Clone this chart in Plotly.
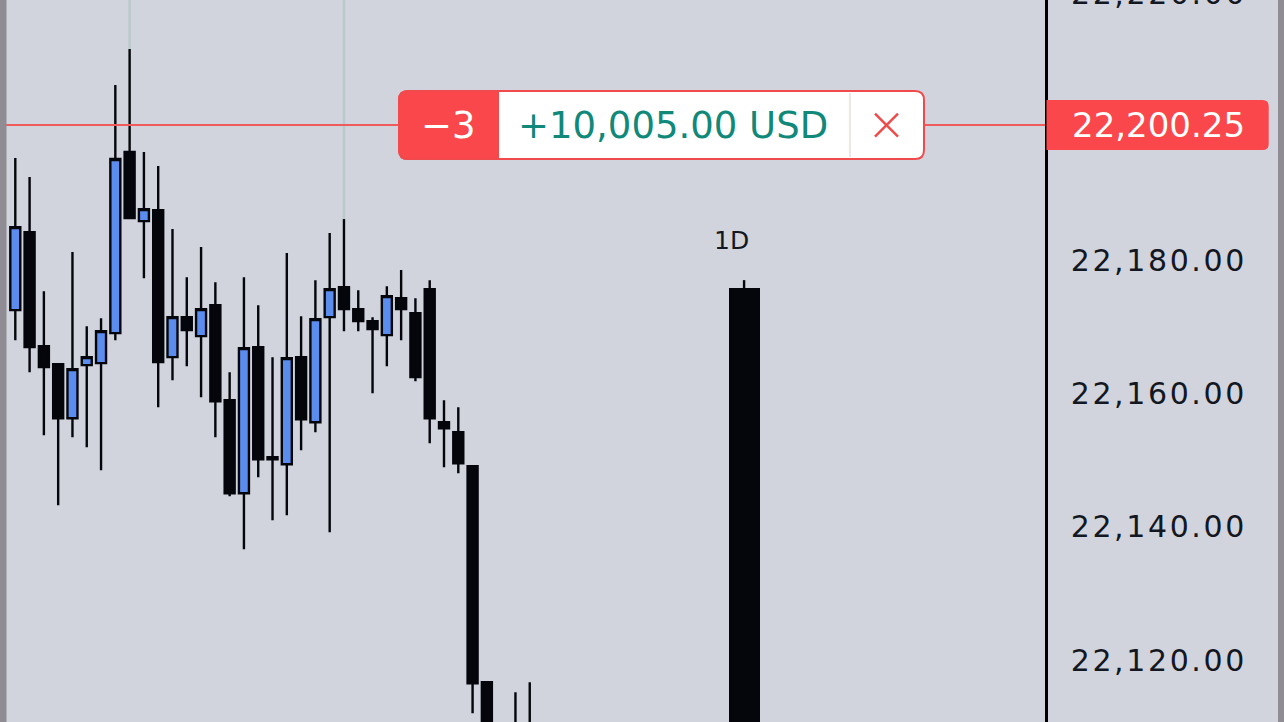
import plotly.graph_objects as go

# ---------------- data ----------------
bar_index = list(range(0, 34)) + [35, 36]
open_ = [22172.50, 22184.20, 22167.10, 22164.40, 22156.30, 22164.25, 22164.55, 22169.05,
         22196.20, 22185.85, 22187.50, 22165.45, 22171.45, 22168.60, 22173.25, 22159.00,
         22145.05, 22166.95, 22150.45, 22149.40, 22165.45, 22155.70, 22171.45, 22175.95,
         22172.65, 22170.85, 22168.75, 22174.30, 22172.05, 22175.65, 22155.70, 22154.20,
         22149.10, 22116.70, 22108.00, 22109.50]
high = [22195.30, 22192.45, 22175.35, 22164.40, 22181.20, 22170.10, 22171.30, 22206.25,
        22211.65, 22196.20, 22194.10, 22184.65, 22177.45, 22181.95, 22176.70, 22163.20,
        22177.45, 22173.25, 22165.45, 22181.05, 22171.60, 22177.00, 22184.05, 22186.15,
        22175.50, 22171.45, 22176.10, 22178.50, 22174.30, 22177.00, 22159.00, 22157.95,
        22149.10, 22116.70, 22115.20, 22116.70]
low = [22168.00, 22163.20, 22153.75, 22143.25, 22153.45, 22151.95, 22148.50, 22168.00,
       22186.30, 22177.30, 22157.95, 22162.00, 22164.10, 22159.45, 22153.45, 22144.60,
       22136.65, 22147.45, 22141.00, 22141.75, 22151.50, 22154.20, 22139.20, 22169.35,
       22169.35, 22160.05, 22164.10, 22168.00, 22161.85, 22152.55, 22148.95, 22148.05,
       22112.05, 22098.00, 22100.00, 22101.00]
close = [22184.95, 22166.95, 22163.95, 22156.30, 22163.65, 22165.45, 22169.35, 22195.15,
         22186.30, 22187.65, 22164.70, 22171.45, 22169.50, 22172.65, 22158.85, 22145.05,
         22166.80, 22150.15, 22150.15, 22165.30, 22156.15, 22171.15, 22175.65, 22172.65,
         22170.85, 22169.65, 22174.60, 22172.65, 22162.45, 22156.30, 22154.80, 22149.55,
         22116.55, 22102.00, 22104.50, 22105.00]

# faint marker lines above two bars
marker_bars = [8, 23]

# daily ("1D") bar
daily_index = [51]
daily_open = [22175.80]
daily_high = [22177.00]
daily_low = [22080.00]
daily_close = [22088.00]
daily_label = "1D"

# position / order
position_price = 22200.25
position_qty = "−3"
position_pnl = "+10,005.00 USD"

tick_values = [22120, 22140, 22160, 22180]
offscreen_tick = 22220

# ---------------- layout geometry ----------------
W, H = 1284, 722
PW, PH = 1045, 722            # plot area in px
Y_MAX = 22219.0
Y_MIN = Y_MAX - 108.25
BAR_PX = 14.29
X0 = -15.3 / BAR_PX
X1 = X0 + PW / BAR_PX

BG = "#d1d4dc"
RED = "#f9474b"
BLUE = "#5b8def"
INK = "#131722"
TEAL = "#10897a"
FONT = "DejaVu Sans"


def xp(px):
    return px / PW


def ypx(price):
    return (Y_MAX - price) / (Y_MAX - Y_MIN) * PH


def yp(py):
    return 1 - py / PH


def rrect(x0, y0, x1, y1, tl, tr, br, bl):
    pts = [
        f"M{xp(x0 + tl)},{yp(y0)}",
        f"L{xp(x1 - tr)},{yp(y0)}",
        f"Q{xp(x1)},{yp(y0)} {xp(x1)},{yp(y0 + tr)}",
        f"L{xp(x1)},{yp(y1 - br)}",
        f"Q{xp(x1)},{yp(y1)} {xp(x1 - br)},{yp(y1)}",
        f"L{xp(x0 + bl)},{yp(y1)}",
        f"Q{xp(x0)},{yp(y1)} {xp(x0)},{yp(y1 - bl)}",
        f"L{xp(x0)},{yp(y0 + tl)}",
        f"Q{xp(x0)},{yp(y0)} {xp(x0 + tl)},{yp(y0)}",
        "Z",
    ]
    return " ".join(pts)


fig = go.Figure()

# faint vertical lines above bars
for b in marker_bars:
    i = bar_index.index(b)
    fig.add_trace(go.Scatter(x=[b, b], y=[high[i], Y_MAX + 5], mode="lines",
                             line=dict(color="#b8cacb", width=2.5),
                             hoverinfo="skip", showlegend=False))

fig.add_trace(go.Candlestick(
    x=bar_index, open=open_, high=high, low=low, close=close,
    increasing=dict(fillcolor=BLUE, line=dict(color="#05060c", width=2.4)),
    decreasing=dict(fillcolor="#05060c", line=dict(color="#05060c", width=2.4)),
    showlegend=False, hoverinfo="skip",
))

# daily bar: body + wick
fig.add_trace(go.Bar(
    x=daily_index, base=[min(o, c) for o, c in zip(daily_open, daily_close)],
    y=[abs(o - c) for o, c in zip(daily_open, daily_close)],
    width=31 / BAR_PX, marker=dict(color="#05060c", line=dict(width=0)),
    showlegend=False, hoverinfo="skip",
))
for xi, o, c, hi in zip(daily_index, daily_open, daily_close, daily_high):
    fig.add_trace(go.Scatter(x=[xi, xi], y=[max(o, c), hi], mode="lines",
                             line=dict(color="#05060c", width=2.4),
                             showlegend=False, hoverinfo="skip"))

shapes = []
# price line
shapes.append(dict(type="line", xref="paper", yref="y", x0=0, x1=1,
                   y0=position_price, y1=position_price,
                   line=dict(color="#ef5a5a", width=2), layer="above"))
cy = ypx(position_price)
# order box
bx0, bx1 = 399, 924
by0, by1 = cy - 34, cy + 34
shapes.append(dict(type="path", xref="paper", yref="paper",
                   path=rrect(bx0, by0, bx1, by1, 9, 9, 9, 9),
                   fillcolor="#ffffff", line=dict(color="#f04a4d", width=2), layer="above"))
shapes.append(dict(type="path", xref="paper", yref="paper",
                   path=rrect(bx0, by0, 498, by1, 9, 0, 0, 9),
                   fillcolor=RED, line=dict(color="#f04a4d", width=2), layer="above"))
shapes.append(dict(type="line", xref="paper", yref="paper",
                   x0=xp(850), x1=xp(850), y0=yp(by0 + 2), y1=yp(by1 - 2),
                   line=dict(color="#eadede", width=1.5), layer="above"))
# close (x) icon
for sx in (-1, 1):
    shapes.append(dict(type="line", xref="paper", yref="paper",
                       x0=xp(886.5 - 11.5), x1=xp(886.5 + 11.5),
                       y0=yp(cy - 11.5 * sx), y1=yp(cy + 11.5 * sx),
                       line=dict(color="#ef4a4a", width=2.4), layer="above"))
# price label on axis
shapes.append(dict(type="path", xref="paper", yref="paper",
                   path=rrect(1046.5, cy - 25, 1268.7, cy + 25, 0, 6, 6, 0),
                   fillcolor=RED, line=dict(width=0), layer="above"))
# screen edge strips
shapes.append(dict(type="rect", xref="paper", yref="paper", x0=xp(-2), x1=xp(6.5),
                   y0=-0.01, y1=1.01, fillcolor="#8f8d93", line=dict(width=0), layer="above"))
shapes.append(dict(type="rect", xref="paper", yref="paper", x0=xp(1278), x1=xp(1290),
                   y0=-0.01, y1=1.01, fillcolor="#8f8d93", line=dict(width=0), layer="above"))

annotations = [
    dict(text=f"{position_price:,.2f}", xref="paper", yref="y", x=xp(1070), y=position_price,
         xanchor="left", yanchor="middle", align="left", showarrow=False,
         font=dict(family=FONT, size=34, color="#ffffff")),
    dict(text=f"{offscreen_tick:,.2f}", xref="paper", yref="paper", x=xp(1069),
         y=yp(ypx(offscreen_tick)),
         xanchor="left", yanchor="middle", align="left", showarrow=False,
         font=dict(family=FONT, size=30, color=INK)),
    dict(text=position_qty, xref="paper", yref="y", x=xp(448.5), y=position_price,
         xanchor="center", yanchor="middle", showarrow=False,
         font=dict(family=FONT, size=37, color="#ffffff")),
    dict(text=position_pnl, xref="paper", yref="y", x=xp(672.5), y=position_price,
         xanchor="center", yanchor="middle", showarrow=False,
         font=dict(family=FONT, size=37, color=TEAL)),
    dict(text=daily_label, xref="x", yref="y", x=daily_index[0], y=daily_high[0],
         xanchor="center", yanchor="middle", xshift=-13, yshift=40, showarrow=False,
         font=dict(family=FONT, size=25, color=INK)),
]

fig.update_layout(
    width=W, height=H,
    margin=dict(l=0, r=W - PW, t=0, b=0, pad=0),
    paper_bgcolor=BG, plot_bgcolor=BG,
    boxgap=0.3, boxgroupgap=0.0,
    shapes=shapes, annotations=annotations,
    showlegend=False,
    xaxis=dict(range=[X0, X1], visible=False, showgrid=False, zeroline=False,
               rangeslider=dict(visible=False), fixedrange=True),
    yaxis=dict(range=[Y_MIN, Y_MAX], side="right", showgrid=False, zeroline=False,
               showline=True, linecolor="#000000", linewidth=2.5,
               tickvals=tick_values, ticktext=[f"{v:,.2f}" for v in tick_values],
               ticks="", ticklabelstandoff=17,
               tickfont=dict(family=FONT, size=30, color=INK), fixedrange=True),
    bargap=0,
)

post = (
    "document.body.style.margin='0';"
    "var st=document.createElement('style');"
    "st.textContent='.ytick text, .annotation[data-index=\"1\"] .annotation-text{letter-spacing:2.6px}';"
    "document.head.appendChild(st);"
)
fig.write_html("out.html", post_script=post, config={"displayModeBar": False})
